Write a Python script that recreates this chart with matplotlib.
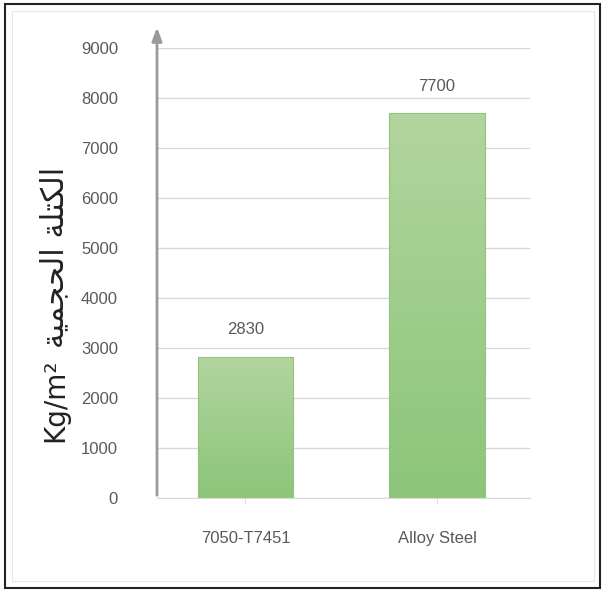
import numpy as np
import matplotlib
matplotlib.use("Agg")
import matplotlib.pyplot as plt
from matplotlib.patches import Rectangle
from matplotlib.colors import LinearSegmentedColormap

categories = ["7050-T7451", "Alloy Steel"]
values = [2830, 7700]
yticks = [0, 1000, 2000, 3000, 4000, 5000, 6000, 7000, 8000, 9000]

# Arabic label in visual (presentation-form) order: "الحجمية الكتلة" + unit "Kg/m²"
w_hajmiya = "\uFE94\uFEF4\uFEE4\uFEA0\uFEA4\uFEDF\uFE8D"
w_kutla = "\uFE94\uFEE0\uFE98\uFEDC\uFEDF\uFE8D"
ylabel_ar = w_hajmiya + " " + w_kutla
ylabel_unit = "Kg/m\u00b2"

plt.rcParams['font.family'] = ['Liberation Sans', 'DejaVu Sans']

fig = plt.figure(figsize=(6.04, 5.92), dpi=100)
W, H = 604, 592
ax = fig.add_axes([157 / W, (H - 498) / H, (530 - 157) / W, (498 - 48) / H])

x = np.arange(len(categories))
bars = ax.bar(x, values, width=0.5, color="none", edgecolor="#8fc47a", linewidth=0.8, zorder=3)

cmap = LinearSegmentedColormap.from_list("g", ["#8cc579", "#b2d59e"])
grad = np.linspace(0, 1, 256).reshape(-1, 1)
for b in bars:
    x0, y0 = b.get_x(), b.get_y()
    im = ax.imshow(grad, cmap=cmap, origin="lower", aspect="auto",
                   extent=[x0, x0 + b.get_width(), y0, y0 + b.get_height()], zorder=2)
    im.set_clip_path(b)

for xi, v in zip(x, values):
    ax.annotate(f"{v}", (xi, v), xytext=(0, 14), textcoords="offset points",
                ha="center", va="bottom", fontsize=12, color="#595959")

ax.set_xlim(-0.462, 1.486)
ax.set_ylim(0, 9000)
ax.set_yticks(yticks)
ax.set_xticks(x)
ax.set_xticklabels(categories)
ax.tick_params(axis="y", length=0, pad=28, labelsize=12, labelcolor="#595959")
ax.tick_params(axis="x", length=4, color="#d9d9d9", pad=20, labelsize=12, labelcolor="#595959")
ax.grid(axis="y", color="#d9d9d9", linewidth=1.0, zorder=0)
ax.set_axisbelow(True)
for s in ["top", "right", "left"]:
    ax.spines[s].set_visible(False)
ax.spines["bottom"].set_color("#d9d9d9")

# y-axis arrow
ax.annotate("", xy=(0, 1.052), xytext=(0, 0), xycoords="axes fraction",
            arrowprops=dict(arrowstyle="-|>,head_length=0.8,head_width=0.3",
                            color="#9a9a9a", lw=2), annotation_clip=False)

# y-axis title (two parts, rotated)
fig.text(55 / W, 1 - 400 / H, ylabel_unit, rotation=90, ha="center", va="center",
         fontsize=20, color="#222222", family=['DejaVu Sans'])
fig.text(55 / W, 1 - 257 / H, ylabel_ar, rotation=90, ha="center", va="center",
         fontsize=22, color="#222222", family=['DejaVu Sans'])

fig.patches.append(Rectangle((5 / W, 4 / H), 595 / W, 584 / H, transform=fig.transFigure,
                             fill=False, edgecolor="#222222", linewidth=1.5))
fig.patches.append(Rectangle((12 / W, 11 / H), 582 / W, 570 / H, transform=fig.transFigure,
                             fill=False, edgecolor="#e6e6e6", linewidth=0.8))

fig.savefig("out.png", dpi=100)
